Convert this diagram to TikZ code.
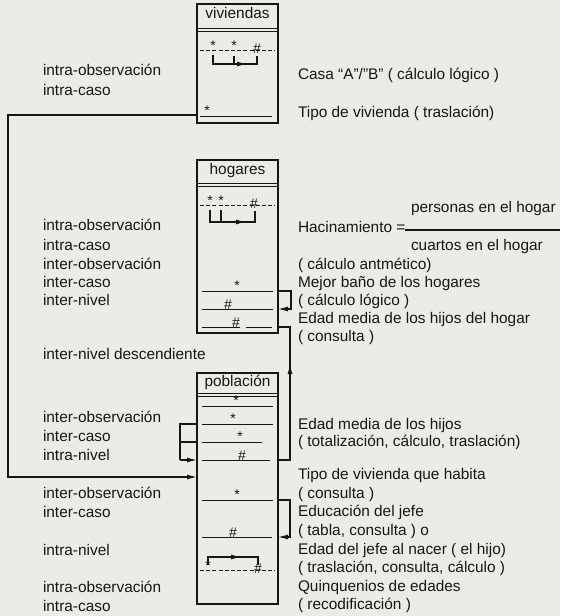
\documentclass[tikz,border=0pt]{standalone}
\usepackage{fontspec}
\setmainfont{Liberation Sans}
\usetikzlibrary{arrows.meta}
\definecolor{ink}{RGB}{22,22,22}
\definecolor{paper}{RGB}{236,236,230}
\begin{document}
\begin{tikzpicture}[x=1pt,y=-1pt,
  every node/.style={inner sep=0pt, outer sep=0pt, text=ink},
  lbl/.style={anchor=mid west, font=\fontsize{15.4}{18}\selectfont},
  ttl/.style={anchor=mid, font=\fontsize{15.4}{18}\selectfont},
  tbox/.style={draw=ink, line width=1.2pt, minimum width=81pt},
  boxl/.style={draw=ink, line width=1pt},
  rowline/.style={draw=ink, line width=0.9pt},
  dashrow/.style={draw=ink, line width=0.9pt, dash pattern=on 4pt off 2.2pt},
  conn/.style={draw=ink, line width=1.2pt},
  arr/.style={-{Latex[length=10pt,width=5pt]}},
  starsym/.style={anchor=center, font=\fontsize{14}{14}\selectfont},
  hashsym/.style={anchor=center, font=\fontsize{14}{14}\selectfont}
]
\fill[paper] (0,0) rectangle (560,616);
\useasboundingbox (0,0) rectangle (560,616);

% ---------------- viviendas ----------------
\node[tbox, minimum height=119pt] (viv) at (237.5,63.5) {};
\node[ttl] (vivT) at (237.5,16) {viviendas};
\draw[boxl] (197,28) -- (278,28) (197,31) -- (278,31);
\draw[dashrow] (200,50) -- (275,50);
\node[starsym] (vs1) at (213,46) {*};
\node[starsym] (vs2) at (234,46) {*};
\node[hashsym] (vh1) at (257,49) {\#};
\draw[conn] (213,55) -- (213,64) -- (257,64) -- (257,56);
\draw[conn] (234,56) -- (234,64);
\draw[conn,arr] (213,64) -- (247,64);
\draw[rowline] (200,116) -- (272,116);
\node[starsym] (vs3) at (207,111) {*};

\node[lbl] (l1) at (43,73) {intra-observación};
\node[lbl] (l2) at (43,93) {intra-caso};
\node[lbl] (r1) at (298,77) {Casa “A”/”B” ( cálculo lógico )};
\node[lbl] (r2) at (298,115) {Tipo de vivienda ( traslación)};

% ---------------- hogares ----------------
\node[tbox, minimum height=173pt] (hog) at (237.5,246.5) {};
\node[ttl] (hogT) at (237.5,172) {hogares};
\draw[boxl] (197,183) -- (278,183) (197,186) -- (278,186);
\draw[dashrow] (200,205) -- (275,205);
\node[starsym] (hs1) at (210,201) {*};
\node[starsym] (hs2) at (221,201) {*};
\node[hashsym] (hh1) at (254,204) {\#};
\draw[conn] (210,210) -- (210,222) -- (255,222) -- (255,211);
\draw[conn] (221,210) -- (221,222);
\draw[conn,arr] (210,222) -- (246,222);
\draw[rowline] (202,291) -- (273,291);
\node[starsym] (hs3) at (237,286) {*};
\draw[rowline] (202,309) -- (273,309);
\node[hashsym] (hh2) at (228,305) {\#};
\draw[rowline] (202,327) -- (240,327) (246,327) -- (272,327);
\node[hashsym] (hh3) at (236,323) {\#};

\node[lbl] (l3) at (43,228) {intra-observación};
\node[lbl] (l4) at (43,248) {intra-caso};
\node[lbl] (l5) at (43,267) {inter-observación};
\node[lbl] (l6) at (43,285) {inter-caso};
\node[lbl] (l7) at (43,303) {inter-nivel};
\node[lbl] (l8) at (43,357) {inter-nivel descendiente};

\node[lbl] (r3) at (298,230) {Hacinamiento =};
\node[lbl] (r3a) at (411,210) {personas en el hogar};
\node[lbl] (r3b) at (411,248) {cuartos en el hogar};
\coordinate (fracA) at (405,230);
\coordinate (fracB) at (560,230);
\draw[conn] (fracA) -- (fracB);
\node[lbl] (r4) at (298,267) {( cálculo antmético)};
\node[lbl] (r5) at (298,285) {Mejor baño de los hogares};
\node[lbl] (r6) at (298,303) {( cálculo lógico )};
\node[lbl] (r7) at (298,321) {Edad media de los hijos del hogar};
\node[lbl] (r8) at (298,339) {( consulta )};

% ---------------- poblacion ----------------
\node[tbox, minimum height=231pt] (pob) at (237.5,488.5) {};
\node[ttl] (pobT) at (237.5,384) {población};
\draw[boxl] (197,393) -- (278,393) (197,396) -- (278,396);
\draw[rowline] (202,406) -- (273,406);
\node[starsym] (ps1) at (236,401) {*};
\draw[rowline] (202,424) -- (273,424);
\node[starsym] (ps2) at (233,419) {*};
\draw[rowline] (202,442) -- (262,442);
\node[starsym] (ps3) at (240,437) {*};
\draw[rowline] (202,460) -- (270,460);
\node[hashsym] (ph1) at (242,456) {\#};
\draw[rowline] (202,500) -- (273,500);
\node[starsym] (ps4) at (237,495) {*};
\draw[rowline] (202,537) -- (272,537);
\node[hashsym] (ph2) at (233,533) {\#};
\draw[conn] (208,565) -- (208,557) -- (258,557) -- (258,565);
\draw[conn,arr] (208,557) -- (241,557);
\draw[dashrow] (200,570) -- (275,570);
\node[starsym] (ps5) at (208,566) {*};
\node[hashsym] (ph3) at (258,569) {\#};

\node[lbl] (l9) at (43,420) {inter-observación};
\node[lbl] (l10) at (43,439) {inter-caso};
\node[lbl] (l11) at (43,458) {intra-nivel};
\node[lbl] (l12) at (43,496) {inter-observación};
\node[lbl] (l13) at (43,515) {inter-caso};
\node[lbl] (l14) at (43,553) {intra-nivel};
\node[lbl] (l15) at (43,590) {intra-observación};
\node[lbl] (l16) at (43,609) {intra-caso};

\node[lbl] (r9) at (298,427) {Edad media de los hijos};
\node[lbl] (r10) at (298,444) {( totalización, cálculo, traslación)};
\node[lbl] (r11) at (298,477) {Tipo de vivienda que habita};
\node[lbl] (r12) at (298,495.6) {( consulta )};
\node[lbl] (r13) at (298,514.2) {Educación del jefe};
\node[lbl] (r14) at (298,532.8) {( tabla, consulta ) o};
\node[lbl] (r15) at (298,551.4) {Edad del jefe al nacer ( el hijo)};
\node[lbl] (r16) at (298,570) {( traslación, consulta, cálculo )};
\node[lbl] (r17) at (298,588.6) {Quinquenios de edades};
\node[lbl] (r18) at (298,607.2) {( recodificación )};

% ---------------- connectors ----------------
\coordinate (vr2) at (197,115);
\coordinate (lpA) at (8,115);
\coordinate (lpB) at (8,477);
\coordinate (pin) at (197,477);
\draw[conn,arr] (vr2) -- (lpA) -- (lpB) -- (pin);

\coordinate (hsr) at (278,291);
\coordinate (hb1) at (291,291);
\coordinate (hb2) at (291,309);
\coordinate (hhr) at (278,309);
\draw[conn,arr] (hsr) -- (hb1) -- (hb2) -- (hhr);

\coordinate (phr) at (278,460);
\coordinate (pc1) at (290,460);
\coordinate (pc2) at (290,327);
\coordinate (hh3r) at (278,327);
\coordinate (pmid1) at (290,392);
\coordinate (pmid2) at (290,364);
\draw[conn] (phr) -- (pc1) -- (pc2) -- (hh3r);
\draw[conn,arr] (pmid1) -- (pmid2);

\coordinate (pl2) at (197,424);
\coordinate (pl3) at (197,442);
\coordinate (pl4) at (197,460);
\coordinate (plx2) at (180,424);
\coordinate (plx3) at (180,442);
\coordinate (plx4) at (180,460);
\draw[conn] (pl2) -- (plx2) -- (plx4);
\draw[conn] (plx3) -- (pl3);
\draw[conn,arr] (plx4) -- (pl4);

\coordinate (p5r) at (278,500);
\coordinate (pb1) at (290,500);
\coordinate (pb2) at (290,537);
\coordinate (p6r) at (278,537);
\draw[conn,arr] (p5r) -- (pb1) -- (pb2) -- (p6r);
\end{tikzpicture}
\end{document}
